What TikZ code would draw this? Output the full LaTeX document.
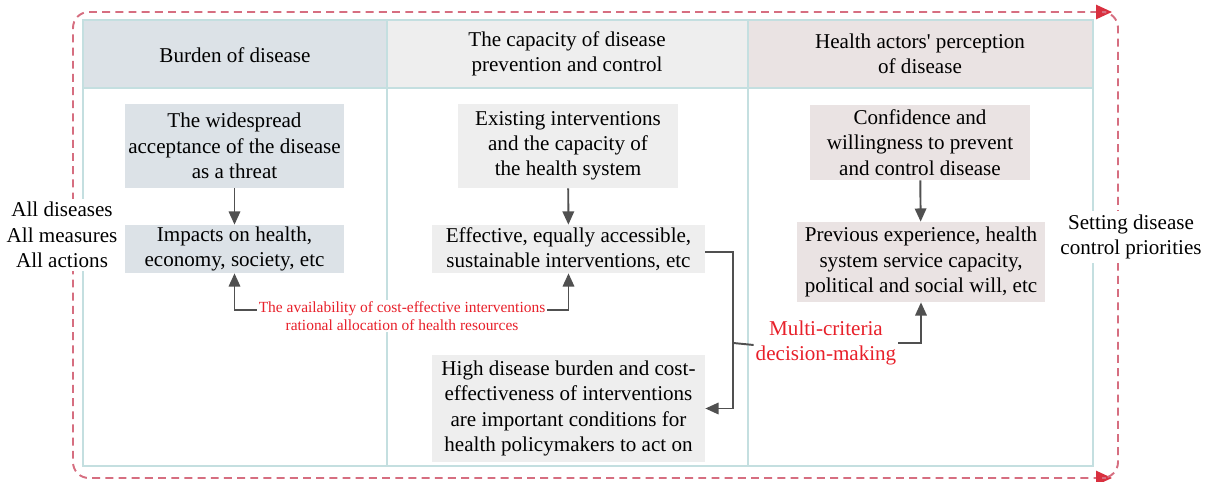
\documentclass[tikz,border=0pt]{standalone}
\usepackage{fontspec}
\setmainfont{Liberation Serif}
\usetikzlibrary{calc,positioning,arrows.meta}

\definecolor{gridteal}{HTML}{C4DFE0}
\definecolor{burdenfill}{HTML}{DCE2E7}
\definecolor{capfill}{HTML}{EEEEEE}
\definecolor{actorfill}{HTML}{EAE3E3}
\definecolor{arrowgray}{HTML}{505050}
\definecolor{looppink}{HTML}{D66E80}
\definecolor{loopred}{HTML}{D9303F}
\definecolor{notered}{HTML}{E8202A}

\begin{document}
\begin{tikzpicture}[
  x=0.02cm, y=-0.02cm,
  txt/.style={font=\fontsize{12}{14.4}\selectfont, align=center},
  smallnote/.style={font=\fontsize{8.8}{10.2}\selectfont, align=center, text=notered, fill=white, inner sep=1pt},
  bignote/.style={txt, text=notered, fill=white, inner sep=1pt},
  burdenbox/.style={txt, fill=burdenfill, inner sep=0pt},
  capbox/.style={txt, fill=capfill, inner sep=0pt},
  actorbox/.style={txt, fill=actorfill, inner sep=0pt},
  flow/.style={-{Triangle[length=7.5pt,width=6.5pt]}, line width=1.1pt, color=arrowgray},
  plainflow/.style={line width=1.1pt, color=arrowgray},
  loopline/.style={looppink, line width=1.1pt, dash pattern=on 4.5pt off 3pt, rounded corners=9},
  looptip/.style={-{Triangle[length=9pt,width=8pt,color=loopred]}},
  ]

  \useasboundingbox (0,0) rectangle (1208,482);

  % dashed loop round the table
  \coordinate (loop_top_left) at (73,12);
  \coordinate (loop_bottom_right) at (1118,478);
  \draw[loopline,looptip] (73,240) |- (1112,12);
  \draw[loopline,looptip] (73,240) |- (1112,478);
  \draw[loopline] (1106,12) -| (loop_bottom_right) -- (1106,478);

  % table
  \fill[white] (83,20) rectangle (1093,466);
  \fill[burdenfill] (83,20) rectangle (387,88);
  \fill[capfill] (387,20) rectangle (748,88);
  \fill[actorfill] (748,20) rectangle (1093,88);
  \draw[gridteal, line width=1.2pt] (83,20) rectangle (1093,466);
  \draw[gridteal, line width=1.2pt] (83,88) -- (1093,88);
  \foreach \x in {387,748}
    \draw[gridteal, line width=1.2pt] (\x,20) -- (\x,466);

  % column heads
  \node[txt] (head_burden) at (235,55) {Burden of disease};
  \node[txt] (head_capacity) at (567,54) {The capacity of disease\\prevention and control};
  \node[txt] (head_actors) at (920,54) {Health actors\textquotesingle{} perception\\of disease};

  % burden column
  \node[burdenbox, minimum width=4.38cm, minimum height=1.68cm] (box_threat) at (234.5,146)
    {The widespread\\acceptance of the disease\\as a threat};
  \node[burdenbox, minimum width=4.38cm, minimum height=0.96cm] (box_impacts) at (234.5,249)
    {Impacts on health,\\economy, society, etc};

  % capacity column
  \node[capbox, minimum width=4.4cm, minimum height=1.68cm] (box_existing) at (568,146)
    {Existing interventions\\and the capacity of\\the health system};
  \node[capbox, minimum width=5.46cm, minimum height=0.96cm] (box_effective) at (568.5,249)
    {Effective, equally accessible,\\sustainable interventions, etc};
  \node[capbox, minimum width=5.46cm, minimum height=2.14cm] (box_conditions) at (568.5,408.5)
    {High disease burden and cost-\\effectiveness of interventions\\are important conditions for\\health policymakers to act on};

  % actors column
  \node[actorbox, minimum width=4.4cm, minimum height=1.5cm] (box_confidence) at (920,142.5)
    {Confidence and\\willingness to prevent\\and control disease};
  \node[actorbox, minimum width=4.96cm, minimum height=1.6cm] (box_experience) at (921,262)
    {Previous experience, health\\system service capacity,\\political and social will, etc};

  % side texts
  \node[txt, fill=white, inner sep=2pt] (side_all) at (62,235) {All diseases\\All measures\\All actions};
  \node[txt, fill=white, inner sep=2pt] (side_setting) at (1131,237) {Setting disease\\control priorities};

  % notes
  \node[smallnote] (note_cost) at (402,316)
    {The availability of cost-effective interventions\\rational allocation of health resources};
  \node[bignote] (note_mcdm) at (826,343) {Multi-criteria\\decision-making};

  % arrows
  \draw[flow] (box_threat) -- (box_impacts);
  \draw[flow] (box_existing) -- (box_effective);
  \draw[flow] (box_confidence) -- (box_experience);
  \draw[flow] ($(note_cost.west)+(0,-6)$) -| (box_impacts.south);
  \draw[flow] ($(note_cost.east)+(0,-6)$) -| (box_effective.south);

  \coordinate (bend_right) at ($(box_effective.east)+(28,3)$);
  \draw[flow] ($(box_effective.east)+(0,3)$) -- (bend_right) |- (box_conditions.east);
  \draw[plainflow] (bend_right |- note_mcdm.west) -- ($(note_mcdm.west)+(0,2)$);
  \draw[flow] (note_mcdm.east) -| (box_experience.south);

\end{tikzpicture}
\end{document}
